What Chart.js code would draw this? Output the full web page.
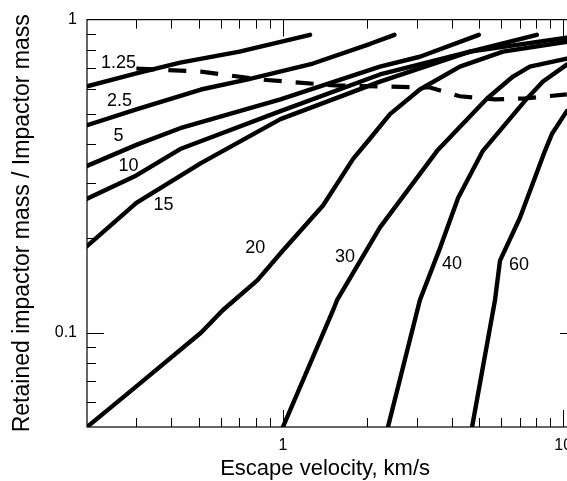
<!DOCTYPE html>
<html>
<head>
<meta charset="utf-8">
<script src="https://cdn.jsdelivr.net/npm/chart.js@4.4.0/dist/chart.umd.min.js"></script>
<style>
  html, body { margin: 0; padding: 0; background: #fff; overflow: hidden; }
  #wrap { position: relative; width: 590px; height: 481px; }
</style>
</head>
<body>
<div id="wrap"><canvas id="myChart"></canvas></div>
<script>
  "use strict";

  // curves are labelled by impact velocity, km/s
  const curveNames = ["1.25", "2.5", "5", "10", "15", "20", "30", "40", "60"];

  // escape velocity (km/s) / retained fraction for each curve
  const vEsc_1_25 = [0.2, 0.3, 0.43, 0.7, 1.25];
  const ret_1_25 = [0.612, 0.673, 0.729, 0.79, 0.894];
  const vEsc_2_5 = [0.2, 0.3, 0.51, 0.75, 1.28, 2.05, 2.5];
  const ret_2_5 = [0.46, 0.517, 0.598, 0.644, 0.724, 0.837, 0.894];
  const vEsc_5 = [0.2, 0.3, 0.43, 0.98, 2.22, 3.08, 5];
  const ret_5 = [0.341, 0.398, 0.45, 0.556, 0.708, 0.761, 0.894];
  const vEsc_10 = [0.2, 0.3, 0.43, 0.98, 2.22, 3.95, 8.05];
  const ret_10 = [0.268, 0.318, 0.386, 0.51, 0.668, 0.761, 0.894];
  const vEsc_15 = [0.2, 0.3, 0.51, 0.98, 2.22, 4.65, 10.3];
  const ret_15 = [0.189, 0.26, 0.348, 0.481, 0.634, 0.79, 0.875];
  const vEsc_20 = [0.2, 0.3, 0.51, 0.61, 0.81, 1.0, 1.39, 1.78, 2.05, 2.41, 3.08, 4.28, 6.1, 10.3];
  const ret_20 = [0.05, 0.0674, 0.1, 0.118, 0.147, 0.183, 0.255, 0.359, 0.418, 0.499, 0.598, 0.708, 0.79, 0.85];
  const vEsc_30 = [1.0, 1.51, 1.56, 2.22, 3.55, 5.35, 6.62, 7.6, 10.3];
  const ret_30 = [0.05, 0.118, 0.127, 0.217, 0.381, 0.56, 0.658, 0.708, 0.751];
  const vEsc_40 = [2.37, 3.08, 3.64, 4.22, 5.17, 7.43, 8.47, 10.3];
  const ret_40 = [0.05, 0.127, 0.187, 0.27, 0.381, 0.56, 0.634, 0.718];
  const vEsc_60 = [4.73, 5.71, 5.95, 7.01, 8.61, 9.11, 10.3];
  const ret_60 = [0.05, 0.127, 0.17, 0.233, 0.381, 0.431, 0.51];
  // dashed line
  const vEsc_dash = [0.3, 0.51, 0.83, 1.54, 3.35, 4.28, 5.71, 7.31, 10.3];
  const ret_dash = [0.698, 0.682, 0.644, 0.616, 0.607, 0.569, 0.556, 0.56, 0.577];

  // where the curve names sit (data units)
  const labelV = [0.259, 0.261, 0.259, 0.281, 0.375, 0.797, 1.667, 4.01, 6.95];
  const labelR = [0.729, 0.548, 0.425, 0.341, 0.255, 0.186, 0.174, 0.1655, 0.1648];

  // axes
  const xTickLabels = [1, 10];
  const yTickLabels = [0.1, 1];
  const xMajor = [1, 10];
  const xMinor = [0.3, 0.4, 0.5, 0.6, 0.7, 0.8, 0.9, 2, 3, 4, 5, 6, 7, 8, 9];
  const yMajor = [0.1];
  const yMinor = [0.06, 0.07, 0.08, 0.09, 0.2, 0.3, 0.4, 0.5, 0.6, 0.7, 0.8, 0.9];

  const FONT = "'Liberation Sans', Arial, Helvetica, sans-serif";
  Chart.defaults.font.family = FONT;
  Chart.defaults.color = "#000";

  function pts(xs, ys) {
    return xs.map(function (v, i) { return { x: v, y: ys[i] }; });
  }

  const solid = [
    [vEsc_1_25, ret_1_25], [vEsc_2_5, ret_2_5], [vEsc_5, ret_5],
    [vEsc_10, ret_10], [vEsc_15, ret_15], [vEsc_20, ret_20],
    [vEsc_30, ret_30], [vEsc_40, ret_40], [vEsc_60, ret_60]
  ];

  const datasets = solid.map(function (c, i) {
    return {
      label: curveNames[i],
      data: pts(c[0], c[1]),
      borderColor: "#000",
      borderWidth: 4.4,
      borderCapStyle: "round",
      borderJoinStyle: "round",
      pointRadius: 0,
      tension: 0,
      fill: false
    };
  });
  datasets.push({
    label: "dash",
    data: pts(vEsc_dash, ret_dash),
    borderColor: "#000",
    borderWidth: 4.2,
    borderDash: [18, 14],
    borderCapStyle: "butt",
    pointRadius: 0,
    tension: 0,
    fill: false
  });

  function near(v, list) {
    return list.some(function (t) { return Math.abs(v - t) / t < 1e-6; });
  }

  const frameTicks = {
    id: "frameTicks",
    afterDatasetsDraw(chart) {
      const ctx = chart.ctx;
      const a = chart.chartArea;
      const x = chart.scales.x;
      const y = chart.scales.y;
      ctx.save();
      ctx.strokeStyle = "#000";
      ctx.lineWidth = 1.2;
      ctx.strokeRect(a.left, a.top, a.right - a.left, a.bottom - a.top);

      ctx.lineWidth = 1;
      ctx.beginPath();
      function xTick(v, len) {
        const px = Math.round(x.getPixelForValue(v)) + 0.5;
        ctx.moveTo(px, a.bottom); ctx.lineTo(px, a.bottom - len);
        ctx.moveTo(px, a.top); ctx.lineTo(px, a.top + len);
      }
      function yTick(v, len) {
        const py = Math.round(y.getPixelForValue(v)) + 0.5;
        ctx.moveTo(a.left, py); ctx.lineTo(a.left + len, py);
        ctx.moveTo(a.right, py); ctx.lineTo(a.right - len, py);
      }
      xMinor.forEach(function (v) { xTick(v, 9); });
      xMajor.forEach(function (v) { xTick(v, 17); });
      yMinor.forEach(function (v) { yTick(v, 9); });
      yMajor.forEach(function (v) { yTick(v, 17); });
      ctx.stroke();

      // curve names
      ctx.fillStyle = "#000";
      ctx.font = "18px " + FONT;
      ctx.textAlign = "center";
      ctx.textBaseline = "middle";
      curveNames.forEach(function (n, i) {
        ctx.fillText(n, x.getPixelForValue(labelV[i]), y.getPixelForValue(labelR[i]));
      });

      // x title, centred under the 0.2 - 10 span
      ctx.font = "22px " + FONT;
      const cx = (a.left + x.getPixelForValue(10)) / 2;
      ctx.fillText("Escape velocity, km/s", cx, 469);
      ctx.restore();
    }
  };

  const ctx = document.getElementById("myChart").getContext("2d");
  const myChart = new Chart(ctx, {
    type: "line",
    data: { datasets: datasets },
    plugins: [frameTicks],
    options: {
      responsive: true,
      maintainAspectRatio: false,
      animation: false,
      layout: { padding: { left: 0, top: 18, right: 13, bottom: 0 } },
      plugins: {
        legend: { display: false },
        tooltip: { enabled: false }
      },
      scales: {
        x: {
          type: "logarithmic",
          min: 0.2,
          max: 11.2,
          grid: { display: false, drawTicks: false },
          border: { display: false },
          ticks: {
            autoSkip: false,
            maxRotation: 0,
            padding: 9,
            font: { size: 16 },
            callback: function (v) { return near(v, xTickLabels) ? String(v) : ""; }
          },
          afterFit: function (s) { s.height = 54; }
        },
        y: {
          type: "logarithmic",
          min: 0.05,
          max: 1,
          grid: { display: false, drawTicks: false },
          border: { display: false },
          ticks: {
            autoSkip: false,
            padding: 10,
            font: { size: 16 },
            callback: function (v) { return near(v, yTickLabels) ? String(v) : ""; }
          },
          title: {
            display: true,
            text: "Retained impactor mass / Impactor mass",
            font: { size: 23 },
            padding: { top: 9, bottom: 0 }
          },
          afterFit: function (s) { s.width = 87; }
        }
      }
    }
  });
</script>
</body>
</html>
